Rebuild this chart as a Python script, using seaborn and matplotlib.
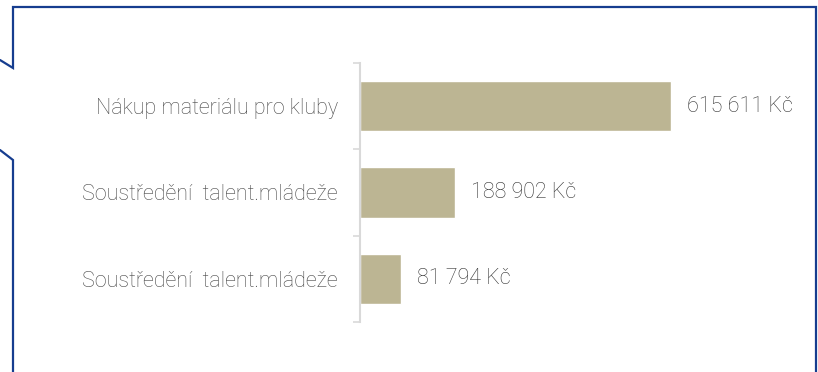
import matplotlib
matplotlib.use("Agg")
import matplotlib.pyplot as plt
from matplotlib.lines import Line2D
import seaborn as sns
import pandas as pd

# Data
kategorie = ["Nákup materiálu pro kluby",
             "Soustředění  talent.mládeže",
             "Soustředění  talent.mládeže"]
castky = [615611, 188902, 81794]
popisky = ["615 611 Kč", "188 902 Kč", "81 794 Kč"]

sns.set_theme(style="white")
plt.rcParams["font.family"] = ["Roboto", "DejaVu Sans"]

W, H = 818, 372
fig = plt.figure(figsize=(W / 100, H / 100), dpi=100)
fig.patch.set_facecolor("white")

ax_left, ax_right = 360, 780
ax_top, ax_bottom = 63, 322
ax = fig.add_axes([ax_left / W, (H - ax_bottom) / H,
                   (ax_right - ax_left) / W, (ax_bottom - ax_top) / H])

df = pd.DataFrame({"poradi": [str(i) for i in range(len(kategorie))],
                   "castka": castky})
sns.barplot(data=df, y="poradi", x="castka", orient="h", color="#bcb593",
            saturation=1, width=0.58, ax=ax)

ax.set_xlim(0, (ax_right - ax_left) / 311 * castky[0])
ax.set_ylim(len(kategorie) - 0.5, -0.5)
ax.set_xlabel("")
ax.set_ylabel("")
ax.set_xticks([])

# Tick marks at category boundaries, labels centred on bars
ax.set_yticks([i - 0.5 for i in range(len(kategorie) + 1)])
ax.set_yticklabels([])
ax.set_yticks(range(len(kategorie)), minor=True)
ax.set_yticklabels(kategorie, minor=True, fontweight="light")
ax.tick_params(axis="y", which="major", length=5, width=1.2,
               color="#d9d9d9", direction="out", left=True)
ax.tick_params(axis="y", which="minor", length=0, pad=16,
               labelsize=15.5, labelcolor="#474747")

for side in ["top", "right", "bottom"]:
    ax.spines[side].set_visible(False)
ax.spines["left"].set_color("#d9d9d9")
ax.spines["left"].set_linewidth(1.5)

for i, (v, txt) in enumerate(zip(castky, popisky)):
    ax.annotate(txt, xy=(v, i), xytext=(16, 0), textcoords="offset pixels",
                ha="left", va="center", fontsize=15.5, fontweight="light",
                color="#333333")

# Callout frame around the chart
blue = "#163d8f"
def px(x, y):
    return x / W, (H - y) / H

for pts in ([(0, 60), (13, 68), (13, 7), (816, 7), (816, H + 2)],
            [(0, 150), (13, 160), (13, H + 2)]):
    xs, ys = zip(*[px(*p) for p in pts])
    fig.add_artist(Line2D(xs, ys, color=blue, linewidth=1.6,
                          transform=fig.transFigure, solid_joinstyle="miter"))

fig.savefig("out.png", dpi=100)
